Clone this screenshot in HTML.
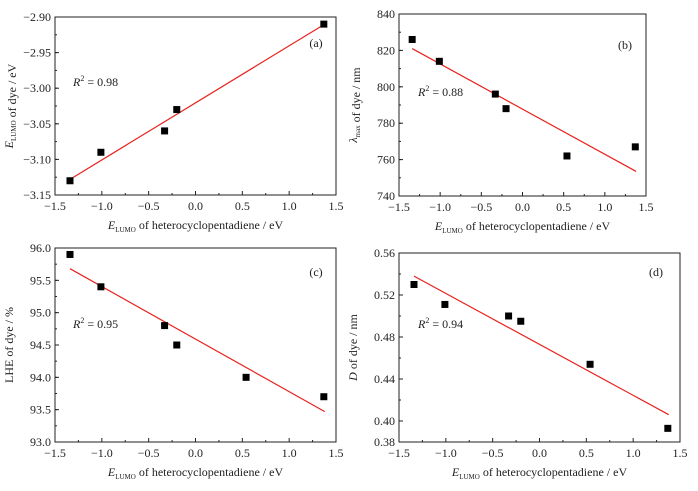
<!DOCTYPE html>
<html><head><meta charset="utf-8"><style>
body{margin:0;background:#fff}
svg text{font-family:"Liberation Serif",serif;fill:#222}
</style></head><body>
<svg id="s" width="698" height="486" viewBox="0 0 698 486" xmlns="http://www.w3.org/2000/svg"></svg>
<script>
const xCats = [-1.34,-1.01,-0.33,-0.2,0.54,1.37];
const xTicks = [-1.5,-1.0,-0.5,0.0,0.5,1.0,1.5];
const aY = [-3.13,-3.09,-3.06,-3.03,null,-2.91];
const bY = [826,814,796,788,762,767];
const cY = [95.9,95.4,94.8,94.5,94.0,93.7];
const dY = [0.530,0.511,0.500,0.495,0.454,0.393];
const aFit = [-3.128,-2.91];
const bFit = [821,753.5];
const cFit = [95.68,93.47];
const dFit = [0.538,0.406];
const fitX = [-1.34,1.38];
const aTicks = [-3.15,-3.10,-3.05,-3.00,-2.95,-2.90];
const bTicks = [740,760,780,800,820,840];
const cTicks = [93.0,93.5,94.0,94.5,95.0,95.5,96.0];
const dTicks = [0.38,0.40,0.44,0.48,0.52,0.56];

const NS='http://www.w3.org/2000/svg';
const svg=document.getElementById('s');
function el(t,a,p){const e=document.createElementNS(NS,t);for(const k in a)e.setAttribute(k,a[k]);(p||svg).appendChild(e);return e;}

const panels=[
 {id:'a',L:55,R:336,T:17,B:195,ymin:-3.15,ymax:-2.90,yt:aTicks,dec:2,ys:aY,fit:aFit,r2:'0.98',r2x:73,r2y:86,lx:316,ly:47,
  ytitle:[{t:'E',i:1},{t:'LUMO',s:1},{t:' of dye / eV'}],minor:true},
 {id:'b',L:399,R:646,T:14,B:196,ymin:740,ymax:840,yt:bTicks,dec:0,ys:bY,fit:bFit,r2:'0.88',r2x:418,r2y:96,lx:625,ly:49,
  ytitle:[{t:'λ',i:1},{t:'max',s:1},{t:' of dye / nm'}],minor:true},
 {id:'c',L:55,R:336,T:248,B:442,ymin:93.0,ymax:96.0,yt:cTicks,dec:1,ys:cY,fit:cFit,r2:'0.95',r2x:73,r2y:328,lx:316,ly:276,
  ytitle:[{t:'LHE of dye / %'}],minor:true},
 {id:'d',L:399,R:680,T:253,B:442,ymin:0.38,ymax:0.56,yt:dTicks,dec:2,ys:dY,fit:dFit,r2:'0.94',r2x:418,r2y:328,lx:656,ly:276,
  ytitle:[{t:'D',i:1},{t:' of dye / nm'}],minor:true}
];
panels.forEach(p=>{
 const g=el('g',{});
 
 
 const X=v=>p.L+(v+1.5)/3*(p.R-p.L);
 const Y=v=>p.B-(v-p.ymin)/(p.ymax-p.ymin)*(p.B-p.T);
 const box=el('rect',{x:p.L,y:p.T,width:p.R-p.L,height:p.B-p.T,fill:'none',stroke:'#222','stroke-width':1},g);
 
 
 xTicks.forEach((v,i)=>{
  el('line',{x1:X(v),x2:X(v),y1:p.B,y2:p.B-4,stroke:'#222'},g);
  if(i<xTicks.length-1){const m=X(v+0.25);el('line',{x1:m,x2:m,y1:p.B,y2:p.B-2,stroke:'#222'},g);}
  const t=el('text',{x:X(v),y:p.B+15,'text-anchor':'middle','font-size':12},g);
  t.textContent=(v<0?'−':'')+Math.abs(v).toFixed(1);
  
  
 });
 p.yt.forEach((v,i)=>{
  el('line',{x1:p.L,x2:p.L+4,y1:Y(v),y2:Y(v),stroke:'#222'},g);
  const t=el('text',{x:p.L-4,y:Y(v)+4,'text-anchor':'end','font-size':12},g);
  t.textContent=(v<0?'−':'')+Math.abs(v).toFixed(p.dec);
  
  
 });
 // minor y ticks
 const step=p.id==='d'?0.02:(p.yt[1]-p.yt[0])/2;
 for(let v=p.ymin;v<p.ymax-1e-9;v+=step){const m=Y(v+step/ (p.id==='d'?1:1) - (p.id==='d'?0:step/1)+step/1-step/1);}
 const ms=(p.yt[p.yt.length-1]-p.yt[p.yt.length-2])/2;
 for(let v=p.ymin+ms;v<p.ymax;v+=ms){el('line',{x1:p.L,x2:p.L+2,y1:Y(v),y2:Y(v),stroke:'#222'},g);}
 // fit line
 const fl=el('line',{x1:X(fitX[0]),y1:Y(p.fit[0]),x2:X(fitX[1]),y2:Y(p.fit[1]),stroke:'#e8231e','stroke-width':1.2},g);
 
 
 p.ys.forEach((v,i)=>{
  if(v===null)return;
  const r=el('rect',{x:X(xCats[i])-3.5,y:Y(v)-3.5,width:7,height:7,fill:'#000'},g);
  
  
 });
 const r2=el('text',{x:p.r2x,y:p.r2y,'font-size':12},g);
 r2.innerHTML='<tspan font-style="italic">R</tspan><tspan font-size="8" dy="-5">2</tspan><tspan dy="5"> = '+p.r2+'</tspan>';
 
 
 const lb=el('text',{x:p.lx,y:p.ly,'font-size':12,'text-anchor':'middle'},g);
 lb.textContent='('+p.id+')';
 
 
 const xt=el('text',{x:(p.L+p.R)/2,y:p.B+34,'font-size':12,'text-anchor':'middle'},g);
 xt.innerHTML='<tspan font-style="italic">E</tspan><tspan font-size="7" dy="3">LUMO</tspan><tspan dy="-3"> of heterocyclopentadiene / eV</tspan>';
 
 
 const cx=p.L-42, cy=(p.T+p.B)/2;
 const yt=el('text',{x:cx,y:cy,'font-size':12,'text-anchor':'middle',transform:'rotate(-90 '+cx+' '+cy+')'},g);
 yt.innerHTML=p.ytitle.map(s=>s.s?'<tspan font-size="7" dy="3">'+s.t+'</tspan><tspan dy="-3"></tspan>':(s.i?'<tspan font-style="italic">'+s.t+'</tspan>':'<tspan>'+s.t+'</tspan>')).join('');
 
 
});
</script>
</body></html>
